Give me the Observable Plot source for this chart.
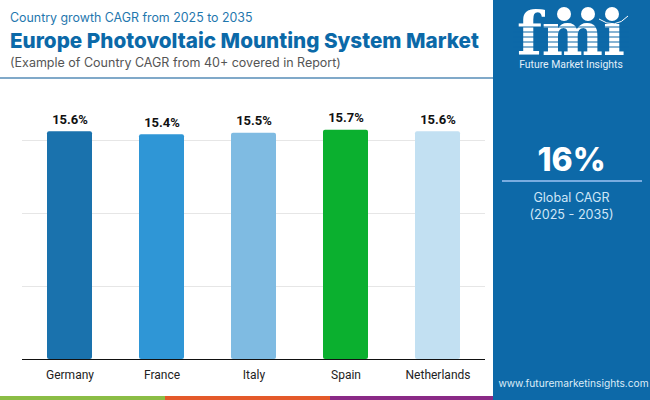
<!DOCTYPE html>
<html><head><meta charset="utf-8">
<script src="https://cdn.jsdelivr.net/npm/d3@7"></script>
<script src="https://cdn.jsdelivr.net/npm/@observablehq/plot@0.6"></script>
<style>
html,body{margin:0;padding:0;background:#fff;}
#page{position:relative;width:650px;height:400px;overflow:hidden;font-family:Inter,sans-serif;background:#fff;}
#page>div{position:absolute;white-space:nowrap;}
#sub{left:10px;top:9px;font-size:12.4px;color:#1f77ae;line-height:18px;}
#title{left:10px;top:27px;font-size:20.7px;font-weight:800;color:#0b69a8;line-height:28px;}
#note{left:10px;top:54px;font-size:12.5px;color:#555;line-height:18px;}
#hr{left:0;top:77px;width:493px;height:2px;background:#80a9c9;}
#panel{left:493px;top:0;width:157px;height:400px;background:#0d69a8;}
#big{left:493px;width:157px;top:138px;text-align:center;font-size:32px;font-weight:800;color:#fff;line-height:44px;}
#rule{left:502px;top:180px;width:140px;height:2px;background:#79ace0;}
#glob{left:493px;width:157px;top:189px;text-align:center;font-size:12.6px;color:#cfe6f7;line-height:17px;}
#url{left:495px;width:157px;top:375px;text-align:center;font-size:10.2px;color:#dcecf8;line-height:16px;}
#g{left:0;top:396px;width:165px;height:4px;background:#8bbd45;}
#o{left:165px;top:396px;width:165px;height:4px;background:#e4592a;}
#p{left:330px;top:396px;width:163px;height:4px;background:#8a2a86;}
#chart{left:0;top:100px;}
#chart svg{display:block;background:transparent;}
#logo{left:493px;top:0;}
</style></head><body>
<div id="page">
<div id="sub">Country growth CAGR from 2025 to 2035</div>
<div id="title">Europe Photovoltaic Mounting System Market</div>
<div id="note">(Example of Country CAGR from 40+ covered in Report)</div>
<div id="hr"></div>
<div id="panel"></div>
<div id="logo"><svg width="157" height="74" viewBox="0 0 157 74">
<text x="78" y="55" text-anchor="middle" font-family="DejaVu Serif" font-weight="700" font-size="60" textLength="108" lengthAdjust="spacingAndGlyphs" fill="#fff">fmı</text>
<g stroke="#0d69a8" stroke-width="1.2"><line x1="20" x2="136" y1="27" y2="27"/><line x1="20" x2="136" y1="32" y2="32"/><line x1="20" x2="136" y1="37" y2="37"/><line x1="20" x2="136" y1="42" y2="42"/><line x1="20" x2="136" y1="47" y2="47"/></g>
<circle cx="71" cy="14" r="7" fill="#fff"/><circle cx="95" cy="14" r="7" fill="#fff"/><circle cx="119" cy="14" r="7" fill="#fff"/>
<path d="M106 19 Q122 30 135 16" fill="none" stroke="#fff" stroke-width="1"/>
<text x="78" y="68" text-anchor="middle" font-family="Roboto" font-size="10.4" fill="#e3f0fa">Future Market Insights</text>
</svg></div>
<div id="big">16%</div>
<div id="rule"></div>
<div id="glob">Global CAGR<br>(2025 - 2035)</div>
<div id="url">www.futuremarketinsights.com</div>
<div id="g"></div><div id="o"></div><div id="p"></div>
<div id="chart"></div>
</div>
<script>
const countries = ["Germany", "France", "Italy", "Spain", "Netherlands"];
const cagr = [15.6, 15.4, 15.5, 15.7, 15.6];
const barColors = ["#1a72ad", "#2f96d6", "#7fbbe2", "#0bb02f", "#c2e0f2"];
const gridTicks = [5, 10, 15];
const table = countries.map((c, i) => ({country: c, value: cagr[i], color: barColors[i]}));
const fig = Plot.plot({
  width: 490, height: 300,
  marginLeft: 22, marginRight: 5, marginTop: 25.4, marginBottom: 41,
  style: {fontFamily: "Roboto, sans-serif", background: "transparent"},
  x: {domain: countries, paddingInner: 0.51, paddingOuter: 0.255, label: null},
  y: {domain: [0, 16], label: null, axis: null},
  marks: [
    Plot.ruleY(gridTicks, {stroke: "#e6e6e6", strokeWidth: 1}),
    Plot.barY(table, {x: "country", y: "value", fill: "color", rx: 2}),
    Plot.ruleY([0], {stroke: "#111", strokeWidth: 1.2}),
    Plot.text(table, {x: "country", y: "value", text: d => d.value.toFixed(1) + "%", dy: -12, fontSize: 13, fontWeight: 700, fill: "#111"}),
    Plot.axisX({tickSize: 0, tickPadding: 11, fontSize: 12, label: null, fill: "#222"})
  ]
});
document.getElementById("chart").appendChild(fig);
</script>
</body></html>
